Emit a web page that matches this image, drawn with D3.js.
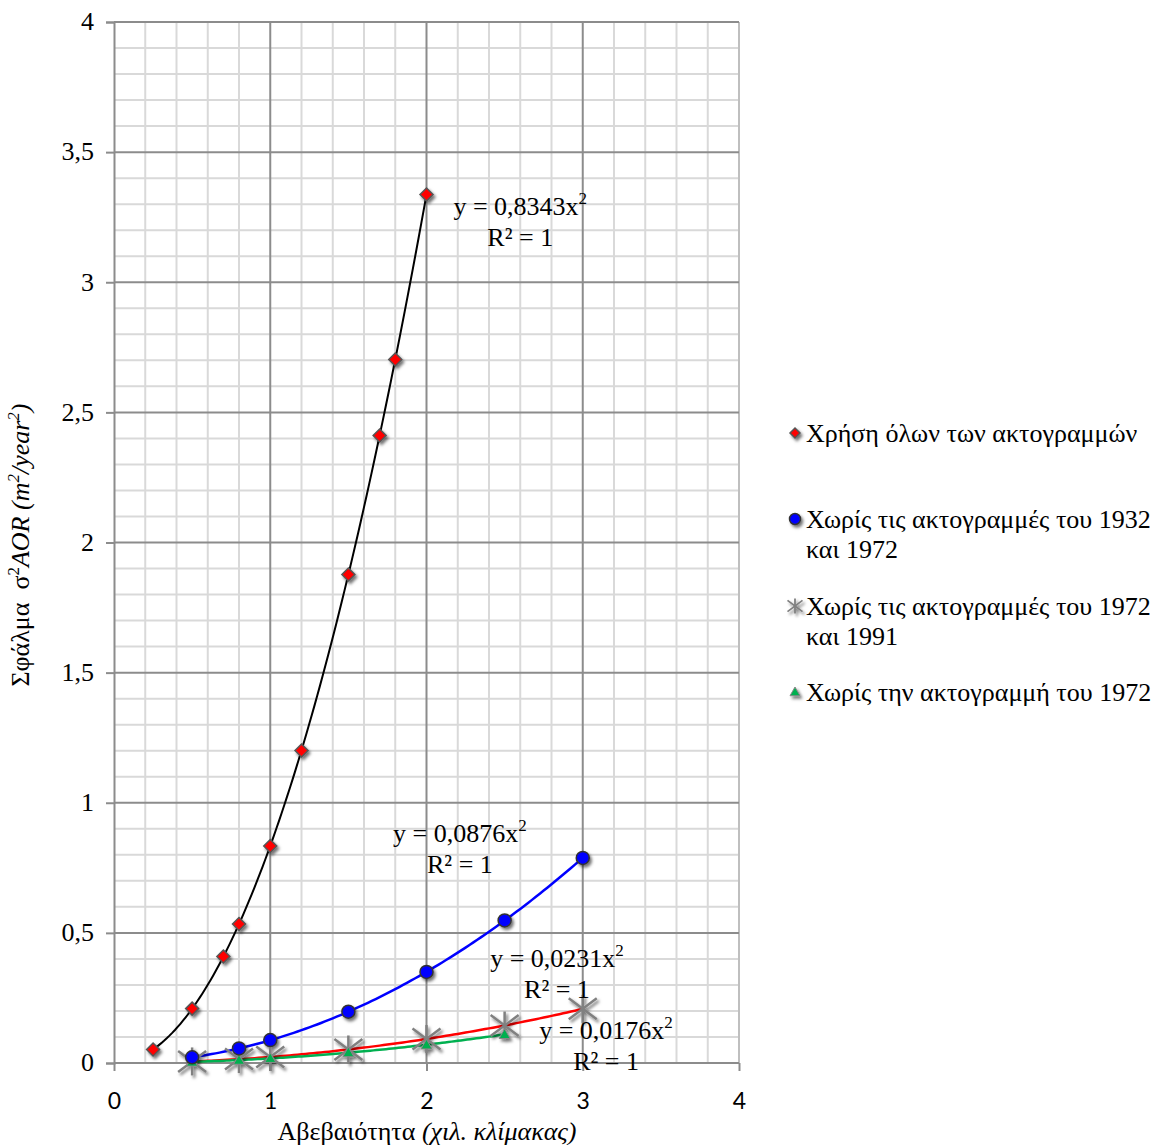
<!DOCTYPE html>
<html>
<head>
<meta charset="utf-8">
<script src="https://cdn.jsdelivr.net/npm/d3@7"></script>
<style>
  html, body { margin: 0; padding: 0; background: #fff; }
  svg { display: block; }
</style>
</head>
<body>
<svg id="chart" width="1163" height="1145"></svg>
<script>
// ---- data ----
const xTicks = [0, 1, 2, 3, 4];
const yTicks = [0, 0.5, 1, 1.5, 2, 2.5, 3, 3.5, 4];
const yTickLabels = ["0", "0,5", "1", "1,5", "2", "2,5", "3", "3,5", "4"];

const allX = [0.25, 0.5, 0.7, 0.8, 1, 1.2, 1.5, 1.7, 1.8, 2];
const allY = [0.052, 0.209, 0.409, 0.534, 0.834, 1.201, 1.877, 2.411, 2.703, 3.337];

const no3272X = [0.5, 0.8, 1, 1.5, 2, 2.5, 3];
const no3272Y = [0.022, 0.056, 0.088, 0.197, 0.350, 0.548, 0.788];

const no7291X = [0.5, 0.8, 1, 1.5, 2, 2.5, 3];
const no7291Y = [0.006, 0.015, 0.023, 0.052, 0.092, 0.144, 0.208];

const no72X = [0.5, 0.8, 1, 1.5, 2, 2.5];
const no72Y = [0.004, 0.011, 0.018, 0.040, 0.070, 0.110];

const seriesNames = [
  ["Χρήση όλων των ακτογραμμών"],
  ["Χωρίς τις ακτογραμμές του 1932", "και 1972"],
  ["Χωρίς τις ακτογραμμές του 1972", "και 1991"],
  ["Χωρίς την ακτογραμμή του 1972"]
];
const trendCoef = [0.8343, 0.0876, 0.0231, 0.0176];
const trendText = ["y = 0,8343x", "y = 0,0876x", "y = 0,0231x", "y = 0,0176x"];

(function () {
const SERIF = "'Liberation Serif', 'Times New Roman', serif";
const SANS = "Lato, Carlito, 'Open Sans', sans-serif";
// ---- layout ----
const svg = d3.select("#chart");
const pL = 114, pR = 739, pT = 22, pB = 1063;
const x = d3.scaleLinear().domain([0, 4]).range([pL, pR]);
const y = d3.scaleLinear().domain([0, 4]).range([pB, pT]);

const defs = svg.append("defs");
const f = defs.append("filter").attr("id", "shadow").attr("x", "-50%").attr("y", "-50%").attr("width", "200%").attr("height", "200%");
f.append("feDropShadow").attr("dx", 2).attr("dy", 2.5).attr("stdDeviation", 1.6)
  .attr("flood-color", "#000").attr("flood-opacity", 0.55);

// grid
const g = svg.append("g");
const minorX = d3.range(0, 4.001, 0.2).filter(v => Math.abs(v - Math.round(v)) > 1e-6);
const minorY = d3.range(0, 4.001, 0.1).filter(v => Math.abs(v * 2 - Math.round(v * 2)) > 1e-6);
g.selectAll(".mx").data(minorX).join("line")
  .attr("x1", d => x(d)).attr("x2", d => x(d)).attr("y1", pT).attr("y2", pB)
  .attr("stroke", "#d9d9d9").attr("stroke-width", 2);
g.selectAll(".my").data(minorY).join("line")
  .attr("x1", pL).attr("x2", pR).attr("y1", d => y(d)).attr("y2", d => y(d))
  .attr("stroke", "#d9d9d9").attr("stroke-width", 2);
g.selectAll(".Mx").data([1, 2, 3]).join("line")
  .attr("x1", d => x(d)).attr("x2", d => x(d)).attr("y1", pT).attr("y2", pB)
  .attr("stroke", "#8c8c8c").attr("stroke-width", 2);
g.append("line").attr("x1", x(4)).attr("x2", x(4)).attr("y1", pT).attr("y2", pB)
  .attr("stroke", "#bfbfbf").attr("stroke-width", 2);
g.selectAll(".My").data(yTicks).join("line")
  .attr("x1", pL).attr("x2", pR).attr("y1", d => y(d)).attr("y2", d => y(d))
  .attr("stroke", "#8c8c8c").attr("stroke-width", 2);

// axes
const yAxis = d3.axisLeft(y).tickValues(yTicks).tickSize(8).tickPadding(12)
  .tickFormat((d, i) => yTickLabels[i]);
const ya = svg.append("g").attr("transform", `translate(${pL},0)`).call(yAxis);
ya.attr("font-family", SERIF);
ya.select(".domain").attr("stroke", "#8c8c8c").attr("stroke-width", 2);
ya.selectAll(".tick line").attr("stroke", "#8c8c8c").attr("stroke-width", 2);
ya.selectAll(".tick text").attr("font-family", SERIF)
  .attr("font-size", 26).attr("fill", "#000").attr("dy", "0.3em");

const xAxis = d3.axisBottom(x).tickValues(xTicks).tickSize(8).tickPadding(22).tickFormat(d3.format("d"));
const xa = svg.append("g").attr("transform", `translate(0,${pB})`).call(xAxis);
xa.attr("font-family", SANS);
xa.select(".domain").attr("stroke", "#8c8c8c").attr("stroke-width", 2).attr("d", `M${pL},0H${pR}`);
xa.selectAll(".tick line").attr("stroke", "#8c8c8c").attr("stroke-width", 2);
xa.selectAll(".tick text").attr("font-family", SANS)
  .attr("font-size", 23).attr("fill", "#000");

// trendlines
const trendRanges = [[allX[0], allX[allX.length - 1]], [no3272X[0], no3272X[no3272X.length - 1]],
  [no7291X[0], no7291X[no7291X.length - 1]], [no72X[0], no72X[no72X.length - 1]]];
const trendColors = ["#000000", "#0000ff", "#ff0000", "#00b050"];
const trendWidths = [2, 2.5, 2.5, 2.5];
const line = d3.line().x(d => x(d[0])).y(d => y(d[1]));
[0, 1, 2, 3].forEach(i => {
  const [a, b] = trendRanges[i];
  const pts = d3.range(0, 101).map(k => { const xv = a + (b - a) * k / 100; return [xv, trendCoef[i] * xv * xv]; });
  svg.append("path").attr("d", line(pts)).attr("fill", "none")
    .attr("stroke", trendColors[i]).attr("stroke-width", trendWidths[i]);
});

// marker helpers
function diamond(sel, cx, cy, r) {
  sel.append("path").attr("d", `M${cx},${cy - r}L${cx + r},${cy}L${cx},${cy + r}L${cx - r},${cy}Z`)
    .attr("fill", "#ff0000").attr("stroke", "#555").attr("stroke-width", 1.5);
}
function circle(sel, cx, cy, r) {
  sel.append("circle").attr("cx", cx).attr("cy", cy).attr("r", r)
    .attr("fill", "#0000ff").attr("stroke", "#333").attr("stroke-width", 1.5);
}
function star(sel, cx, cy, r, w) {
  const gg = sel.append("g").attr("stroke", "#808080").attr("stroke-width", w);
  gg.append("line").attr("x1", cx).attr("x2", cx).attr("y1", cy - r).attr("y2", cy + r);
  gg.append("line").attr("x1", cx - r).attr("x2", cx + r).attr("y1", cy - r * 0.75).attr("y2", cy + r * 0.75);
  gg.append("line").attr("x1", cx - r).attr("x2", cx + r).attr("y1", cy + r * 0.75).attr("y2", cy - r * 0.75);
}
function triangle(sel, cx, cy, r) {
  sel.append("path").attr("d", `M${cx},${cy - r}L${cx + r},${cy + r * 0.75}L${cx - r},${cy + r * 0.75}Z`)
    .attr("fill", "#00b050").attr("stroke", "#888").attr("stroke-width", 1);
}

// markers
const mk = svg.append("g").attr("filter", "url(#shadow)");
no7291X.forEach((v, i) => star(mk, x(v), y(no7291Y[i]), 14, 2.5));
no72X.forEach((v, i) => triangle(mk, x(v), y(no72Y[i]), 5.5));
no3272X.forEach((v, i) => circle(mk, x(v), y(no3272Y[i]), 6.5));
allX.forEach((v, i) => diamond(mk, x(v), y(allY[i]), 6.5));

// trend equation labels (anchor in data coordinates)
const eqPos = [[2.6, 3.258], [2.214, 0.849], [2.835, 0.369], [3.149, 0.092]];
eqPos.forEach((p, i) => {
  const t = svg.append("text").attr("x", x(p[0])).attr("y", y(p[1]))
    .attr("text-anchor", "middle").attr("font-family", SERIF)
    .attr("font-size", 26).attr("fill", "#000");
  t.append("tspan").text(trendText[i]);
  t.append("tspan").attr("dy", -11).attr("font-size", 17).text("2");
  svg.append("text").attr("x", x(p[0])).attr("y", y(p[1]) + 31)
    .attr("text-anchor", "middle").attr("font-family", SERIF)
    .attr("font-size", 26).attr("fill", "#000").text("R² = 1");
});

// axis titles
const xt = svg.append("text").attr("x", 427).attr("y", 1140).attr("text-anchor", "middle")
  .attr("font-family", SERIF).attr("font-size", 26).attr("fill", "#000");
xt.append("tspan").text("Αβεβαιότητα ");
xt.append("tspan").attr("font-style", "italic").text("(χιλ. κλίμακας)");

const yt = svg.append("text").attr("transform", "translate(29,545) rotate(-90)").attr("text-anchor", "middle")
  .attr("font-family", SERIF).attr("font-size", 26).attr("fill", "#000");
yt.append("tspan").text("Σφάλμα\u00a0\u00a0σ");
yt.append("tspan").attr("dy", -10).attr("font-size", 17).text("2");
yt.append("tspan").attr("dy", 10).attr("font-style", "italic").text("AOR (m");
yt.append("tspan").attr("dy", -10).attr("font-size", 17).attr("font-style", "italic").text("2");
yt.append("tspan").attr("dy", 10).attr("font-style", "italic").text("/year");
yt.append("tspan").attr("dy", -10).attr("font-size", 17).attr("font-style", "italic").text("2");
yt.append("tspan").attr("dy", 10).attr("font-style", "italic").text(")");

// legend
const legY = [433, 519, 606, 692];
const lg = svg.append("g");
const lm = lg.append("g").attr("filter", "url(#shadow)");
diamond(lm, 795, legY[0], 5);
circle(lm, 795, legY[1], 5.5);
star(lm, 795, legY[2], 7.5, 1.8);
triangle(lm, 795, legY[3], 5);
seriesNames.forEach((lines, i) => {
  lines.forEach((s, j) => {
    lg.append("text").attr("x", 806).attr("y", legY[i] + 9 + j * 30)
      .attr("font-family", SERIF).attr("font-size", 26)
      .attr("fill", "#000").text(s);
  });
});
})();
</script>
</body>
</html>
